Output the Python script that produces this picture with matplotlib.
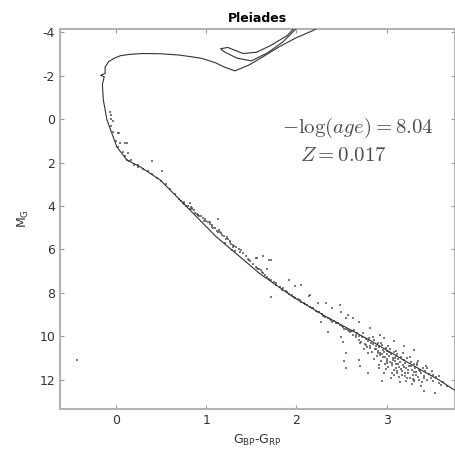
import matplotlib
matplotlib.use("Agg")
import matplotlib.pyplot as plt

plt.rcParams['axes.unicode_minus'] = False

# isochrone: main sequence -> turnoff -> giant branch (leaves the top)
iso_x = [3.75, 3.58, 3.22, 2.81, 2.33, 1.96, 1.59, 1.48, 1.11, 0.71, 0.49, 0.27,
         0.12, 0.01, -0.10, -0.14, -0.15, -0.13, -0.17, -0.12, -0.12, -0.08, -0.02,
         0.05, 0.15, 0.30, 0.49, 0.70, 0.82, 0.95, 1.10, 1.20, 1.32, 1.48, 1.63,
         1.81, 2.00, 2.18, 2.30]
iso_y = [12.47, 12.01, 11.17, 10.17, 9.10, 8.18, 7.10, 6.71, 5.41, 3.72, 2.80, 2.20,
         1.88, 1.28, 0.03, -0.89, -1.60, -1.95, -2.02, -2.10, -2.40, -2.65, -2.80,
         -2.92, -2.98, -3.02, -3.01, -2.95, -2.88, -2.80, -2.60, -2.40, -2.22, -2.50,
         -2.87, -3.33, -3.75, -4.07, -4.35]
# helium burning loop, coming back in from the top
loop_x = [2.03, 1.85, 1.68, 1.50, 1.34, 1.20, 1.16, 1.24, 1.41, 1.56, 1.72, 1.90, 2.00]
loop_y = [-4.30, -3.55, -3.05, -2.68, -2.81, -3.10, -3.24, -3.30, -3.02, -3.08,
          -3.40, -3.85, -4.30]

# cluster members (G_BP - G_RP, M_G): upper main sequence and outliers
star_x = [-0.43,
          -0.05, -0.06, -0.03, 0.00, 0.02, 0.05, 0.08, 0.10, 0.12, 0.15, 0.20, 0.25,
          0.30, 0.35, 0.40, 0.45, 0.50, 0.55, 0.60, 0.65, 0.70,
          -0.07, -0.05, -0.03, 0.02, 0.12, 0.13, 0.17, 0.40, 0.51, 0.24, 0.03, 0.10,
          0.82, 0.84, 0.91, 1.04, 1.13, 1.13, 1.26, 1.30, 1.32, 1.21, 1.56, 1.63,
          1.70, 1.59, 1.68, 1.29, 1.55, 1.61, 1.92, 1.99, 2.05,
          1.72, 1.72, 2.15, 2.24, 2.33, 2.39, 2.48, 2.50, 2.55, 2.57, 2.63, 2.70,
          2.35, 2.50, 2.52, 2.27, 2.14, 2.82, 2.55, 2.53, 2.55, 2.70, 2.71, 2.79,
          2.92, 2.95, 3.08, 3.30, 3.41, 3.54, 3.51, 3.58, 3.60, 2.93, 2.97, 3.08,
          3.19, 3.30, 3.34, 3.45]
star_y = [11.08,
          0.00, 0.30, 0.60, 1.00, 1.30, 1.10, 1.50, 1.70, 1.90, 1.95, 2.10, 2.20,
          2.30, 2.40, 2.55, 2.70, 2.85, 3.00, 3.20, 3.45, 3.70,
          -0.35, -0.20, 0.11, 0.62, 1.10, 1.54, 1.88, 1.91, 2.37, 2.10, 0.62, 1.10,
          3.87, 4.10, 4.41, 4.76, 4.61, 5.18, 5.64, 5.87, 6.06, 5.71, 6.41, 6.30,
          6.48, 6.91, 6.91, 6.01, 6.39, 6.93, 7.39, 7.70, 7.65,
          8.17, 6.47, 8.10, 8.48, 8.48, 8.71, 8.56, 8.87, 9.17, 9.02, 9.17, 9.33,
          9.79, 10.02, 10.25, 9.33, 8.16, 9.62, 10.77, 11.15, 11.46, 11.08, 11.38, 11.69,
          11.46, 12.07, 11.77, 12.07, 12.53, 12.61, 11.77, 11.84, 12.23, 9.93, 10.08, 10.23,
          10.46, 10.62, 11.31, 11.46]

# single-star band along the main sequence
band_x = [0.72, 0.74, 0.76, 0.78, 0.80, 0.82, 0.84, 0.86, 0.88, 0.90, 0.92, 0.94,
          0.96, 0.98, 1.00, 1.02, 1.04, 1.06, 1.08, 1.10, 1.12, 1.14, 1.16, 1.18,
          1.20, 1.22, 1.24, 1.26, 1.28, 1.30, 1.33, 1.36, 1.38, 1.41, 1.44, 1.46,
          1.49, 1.52, 1.55, 1.58, 1.62, 1.65, 1.68, 1.72, 1.75, 1.78, 1.82, 1.85,
          1.88, 1.92, 1.95, 1.98, 2.02, 2.05, 2.08, 2.12, 2.15, 2.18, 2.22, 2.25,
          2.28, 2.32, 2.35, 2.38, 2.42, 2.45, 2.48, 2.52, 2.55, 2.58,
          0.75, 0.83, 0.91, 0.99, 1.07, 1.15, 1.23, 1.31, 1.39, 1.47, 1.56, 1.63,
          1.70, 1.77, 1.84, 1.90, 1.97, 2.04, 2.10, 2.17, 2.24, 2.30, 2.37, 2.44,
          2.51, 2.57, 2.40, 2.46, 2.53, 2.60, 2.62, 2.66]
band_y = [3.75, 3.88, 3.90, 4.00, 3.98, 4.12, 4.15, 4.20, 4.32, 4.35, 4.45, 4.48,
          4.55, 4.68, 4.70, 4.76, 4.85, 4.88, 5.00, 5.02, 5.15, 5.12, 5.25, 5.35,
          5.40, 5.50, 5.52, 5.60, 5.75, 5.78, 5.90, 6.00, 6.10, 6.18, 6.30, 6.42,
          6.55, 6.66, 6.80, 6.90, 7.05, 7.20, 7.28, 7.40, 7.50, 7.62, 7.75, 7.80,
          7.92, 8.05, 8.12, 8.22, 8.30, 8.40, 8.45, 8.58, 8.65, 8.72, 8.85, 8.90,
          8.98, 9.10, 9.15, 9.25, 9.32, 9.40, 9.50, 9.58, 9.65, 9.75,
          3.80, 4.05, 4.42, 4.62, 4.95, 5.20, 5.45, 5.85, 6.05, 6.48, 6.85, 7.10,
          7.35, 7.55, 7.85, 7.98, 8.18, 8.35, 8.50, 8.70, 8.88, 9.05, 9.20, 9.38,
          9.55, 9.72, 9.36, 9.41, 9.66, 9.82, 9.76, 9.94]

# crowded low-mass end
blob_x = [2.61, 2.63, 2.64, 2.66, 2.67, 2.69, 2.70, 2.72, 2.73, 2.74, 2.76, 2.77,
          2.78, 2.79, 2.81, 2.82, 2.83, 2.84, 2.85, 2.86, 2.87, 2.88, 2.89, 2.90,
          2.91, 2.92, 2.93, 2.94, 2.95, 2.96, 2.96, 2.97, 2.98, 2.99, 3.00, 3.00,
          3.01, 3.02, 3.03, 3.04, 3.04, 3.05, 3.06, 3.07, 3.08, 3.08, 3.09, 3.10,
          3.11, 3.12, 3.12, 3.13, 3.14, 3.15, 3.16, 3.17, 3.18, 3.19, 3.20, 3.21,
          3.22, 3.23, 3.24, 3.25, 3.26, 3.27, 3.28, 3.29, 3.30, 3.31, 3.32, 3.33,
          3.34, 3.35, 3.36, 3.38, 3.39, 3.40, 3.42, 3.43, 3.45, 3.47, 3.49, 3.52,
          3.55, 3.58, 3.63, 3.67, 2.92, 2.99, 3.06, 3.14, 3.22, 3.28, 2.86, 2.80,
          2.75, 3.10, 3.18, 3.26, 3.35, 3.02, 2.94, 2.85, 3.44, 3.50, 3.38, 3.15,
          3.05, 2.97,
          2.90, 2.93, 2.98, 3.01, 3.03, 3.07, 3.09, 3.11, 3.13, 3.16, 3.19, 3.21,
          3.24, 3.27, 3.30, 3.33, 3.37, 3.41, 2.88, 2.95, 3.00, 3.06, 3.12, 3.17,
          3.23, 3.29, 3.36, 2.82, 2.77, 2.71]
blob_y = [9.74, 9.93, 9.71, 10.04, 9.86, 10.17, 9.98, 10.26, 10.02, 9.83, 10.35, 10.14,
          10.51, 10.22, 10.08, 10.44, 10.29, 10.71, 10.37, 10.18, 10.58, 10.46, 10.92, 10.33,
          10.66, 10.51, 10.78, 11.13, 10.42, 10.62, 10.95, 10.71, 11.28, 10.55, 10.84, 11.06,
          10.67, 11.42, 10.93, 10.59, 11.18, 10.80, 11.33, 11.02, 10.74, 11.55, 11.12, 10.90,
          11.26, 11.71, 10.83, 11.05, 11.40, 11.17, 10.96, 11.62, 11.31, 11.08, 11.83, 11.24,
          11.47, 11.02, 11.68, 11.35, 11.92, 11.18, 11.54, 11.77, 11.29, 12.03, 11.46, 11.63,
          11.22, 11.88, 11.55, 11.71, 12.12, 11.48, 11.83, 11.62, 12.01, 11.76, 11.93, 12.08,
          11.87, 12.17, 12.09, 12.28, 11.32, 11.51, 11.68, 11.87, 12.04, 12.18, 11.05, 10.78,
          10.58, 10.68, 10.79, 10.95, 11.12, 10.45, 10.30, 10.05, 11.35, 11.58, 12.30, 12.10,
          11.90, 11.70,
          10.75, 10.88, 10.97, 11.22, 10.74, 11.10, 10.98, 11.45, 11.28, 11.52, 11.42, 11.70,
          11.56, 11.36, 11.65, 11.78, 11.60, 11.90, 10.60, 10.83, 11.15, 11.25, 11.58, 11.80,
          11.92, 11.95, 12.00, 10.55, 10.40, 10.30]

fig = plt.figure(figsize=(4.56, 4.55), dpi=100)
ax = fig.add_axes([0.1316, 0.1011, 0.8664, 0.8352])

for xs, ys in [(star_x, star_y), (band_x, band_y), (blob_x, blob_y)]:
    ax.scatter(xs, ys, s=4, marker='s', color='0.3', alpha=0.75, linewidths=0, zorder=2)
ax.plot(iso_x, iso_y, color='0.2', lw=0.8, zorder=3)
ax.plot(loop_x, loop_y, color='0.2', lw=0.8, zorder=3)

ax.set_xlim(-0.62, 3.76)
ax.set_ylim(13.35, -4.15)
ax.set_xticks([0, 1, 2, 3])
ax.set_yticks([-4, -2, 0, 2, 4, 6, 8, 10, 12])
ax.tick_params(direction='in', top=True, right=True, length=3, width=0.8,
               color='0.6', labelsize=9, labelcolor='0.2')
for sp in ax.spines.values():
    sp.set_color('0.7')
    sp.set_linewidth(1.5)

ax.set_title('Pleiades', fontsize=9, fontweight='bold', pad=5)
ax.set_xlabel(r'G$_\mathregular{BP}$-G$_\mathregular{RP}$', fontsize=9, color='0.2',
              labelpad=4)
ax.set_ylabel(r'M$_\mathregular{G}$', fontsize=9, color='0.2', labelpad=6)

ax.text(2.68, 0.40, r'$-\log(age) = 8.04$', fontsize=15, color='0.3',
        ha='center', va='center', math_fontfamily='cm')
ax.text(2.52, 1.65, r'$Z = 0.017$', fontsize=15, color='0.3',
        ha='center', va='center', math_fontfamily='cm')

fig.savefig('out.png', dpi=100)
